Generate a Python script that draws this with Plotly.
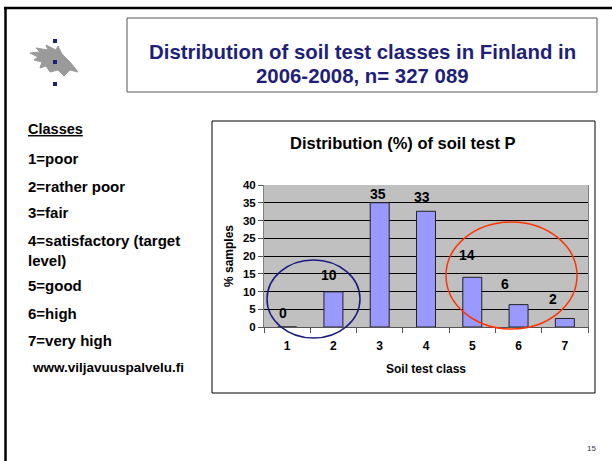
import plotly.graph_objects as go

# soil test P classes and share of samples (%)
classes = ["1", "2", "3", "4", "5", "6", "7"]
share = [0, 9.9, 35, 32.6, 14, 6.3, 2.4]
share_labels = ["0", "10", "35", "33", "14", "6", "2"]
y_ticks = [0, 5, 10, 15, 20, 25, 30, 35, 40]

class_names = ["1=poor", "2=rather poor", "3=fair", "4=satisfactory (target<br>level)",
               "5=good", "6=high", "7=very high"]

W, H = 612, 461
# plot area in pixels
L, R, T, B = 264, 588, 185, 327

def px(x):
    return (x - L) / (R - L)

def py(y):
    return (B - y) / (B - T)

NAVY = "#1F1F78"
FONT = "Liberation Sans"

fig = go.Figure(go.Bar(
    x=classes, y=share,
    width=0.41,
    marker=dict(color="#9999FF", line=dict(color="#222222", width=1)),
    hoverinfo="skip",
))

# data labels sit a bit up and left of the bar tops, as in the slide
label_dx = [-4, -4, -2, -4, -5, -14, -12]
label_dy = [14, 17, 9, 14, 22, 21, 19]
for i, (v, t) in enumerate(zip(share, share_labels)):
    fig.add_annotation(x=i, y=v, xref="x", yref="y", text=t, showarrow=False,
                       xanchor="center", yanchor="middle",
                       xshift=label_dx[i], yshift=label_dy[i],
                       font=dict(size=14, color="black", family=FONT, weight="bold"))

shapes = []
# slide frame
shapes.append(dict(type="line", xref="paper", yref="paper", x0=px(4), x1=px(612), y0=py(8), y1=py(8),
                   line=dict(color="black", width=2.5)))
shapes.append(dict(type="line", xref="paper", yref="paper", x0=px(5.5), x1=px(5.5), y0=py(8), y1=py(461),
                   line=dict(color="black", width=2.5)))
# title box
shapes.append(dict(type="rect", xref="paper", yref="paper", x0=px(127), x1=px(597), y0=py(18), y1=py(92),
                   line=dict(color="#555555", width=1)))
# chart box
shapes.append(dict(type="rect", xref="paper", yref="paper", x0=px(212), x1=px(595), y0=py(121), y1=py(393),
                   line=dict(color="black", width=1), layer="below"))
# ellipses
shapes.append(dict(type="circle", xref="paper", yref="paper", x0=px(267), x1=px(360), y0=py(338), y1=py(260),
                   line=dict(color="#1A1A80", width=1.5)))
shapes.append(dict(type="circle", xref="paper", yref="paper", x0=px(446), x1=px(577), y0=py(329), y1=py(222),
                   line=dict(color="#FF3300", width=1.5)))

# logo: grey flame and three navy squares
flame = [(30, 53), (40, 52), (36, 48), (48, 50), (46, 45), (56, 50), (58, 46), (62, 54), (70, 62),
         (78, 72), (70, 70), (64, 76), (58, 70), (50, 72), (46, 66), (40, 68), (42, 62), (34, 60), (38, 57)]
path = "M " + " L ".join(f"{px(a):.4f},{py(b):.4f}" for a, b in flame) + " Z"
shapes.append(dict(type="path", xref="paper", yref="paper", path=path,
                   fillcolor="#9A9A9A", line=dict(color="#9A9A9A", width=1)))
for sy in [41, 62, 84]:
    shapes.append(dict(type="rect", xref="paper", yref="paper", x0=px(53), x1=px(57), y0=py(sy - 2), y1=py(sy + 2),
                       fillcolor=NAVY, line=dict(width=0)))

annotations = [
    dict(x=px(362), y=py(52), text="Distribution of soil test classes in Finland in", xanchor="center",
         font=dict(size=20.4, color=NAVY, family=FONT, weight="bold")),
    dict(x=px(362), y=py(76), text="2006-2008, n= 327 089", xanchor="center",
         font=dict(size=20.4, color=NAVY, family=FONT, weight="bold")),
    dict(x=px(403), y=py(143), text="Distribution (%) of soil test P", xanchor="center",
         font=dict(size=16.5, color="black", family=FONT, weight="bold")),
    dict(x=px(26), y=py(129), text="<u>Classes</u>", xanchor="left",
         font=dict(size=14.5, color="black", family=FONT, weight="bold")),
    dict(x=px(30), y=py(367), text="www.viljavuuspalvelu.fi", xanchor="left",
         font=dict(size=13.5, color="black", family=FONT, weight="bold")),
    dict(x=px(591), y=py(448), text="15", xanchor="center",
         font=dict(size=8, color="#333333", family=FONT)),
]
class_y = [158, 186, 212, 250, 285, 313, 340]
for name, yy in zip(class_names, class_y):
    annotations.append(dict(x=px(26), y=py(yy), text=name, xanchor="left", align="left",
                            font=dict(size=15, color="black", family=FONT, weight="bold")))

fig.update_layout(
    width=W, height=H,
    margin=dict(l=L, r=W - R, t=T, b=H - B, pad=0),
    paper_bgcolor="white",
    plot_bgcolor="#C0C0C0",
    showlegend=False,
    shapes=shapes,
    font=dict(family=FONT, color="black"),
)
for a in annotations:
    fig.add_annotation(xref="paper", yref="paper", showarrow=False, yanchor="middle", **a)

fig.update_xaxes(
    type="category", ticks="outside", tickson="boundaries", ticklen=5, tickcolor="#555555",
    showline=True, linecolor="#555555", mirror=False, showgrid=False, automargin=False,
    tickfont=dict(size=12, family=FONT, weight="bold"), ticklabelstandoff=8,
    title=dict(text="Soil test class", font=dict(size=12, family=FONT, weight="bold"), standoff=12),
)
fig.update_yaxes(
    range=[0, 40], tickvals=y_ticks, ticks="outside", ticklen=5, tickcolor="#555555",
    showline=True, linecolor="#808080", mirror=True, showgrid=True, gridcolor="black", gridwidth=1,
    zeroline=False, automargin=False,
    tickfont=dict(size=11.5, family=FONT, weight="bold"),
    title=dict(text="% samples", font=dict(size=12, family=FONT, weight="bold"), standoff=6),
)

# drop the browser's default page margin so the figure starts at the window corner
fig.write_html("out.html", config={"displayModeBar": False},
               post_script="document.body.style.margin='0';")
